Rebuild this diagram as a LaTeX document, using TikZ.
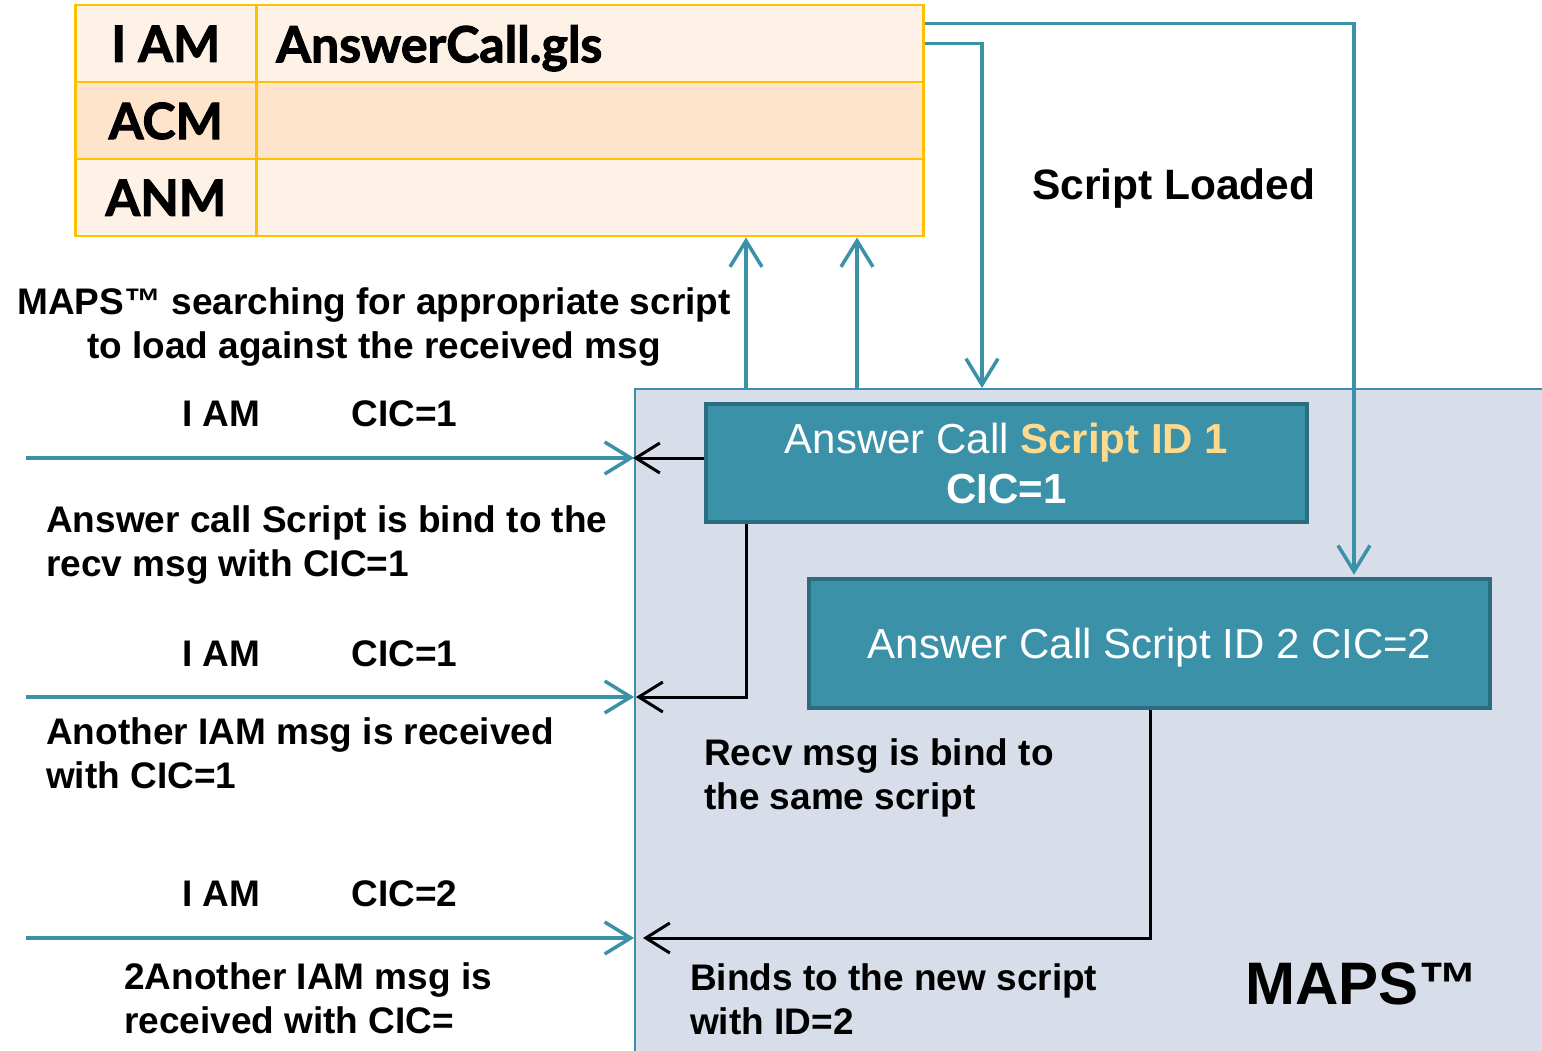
\documentclass[tikz,border=0pt]{standalone}
\usepackage{fontspec}
\setmainfont{Liberation Sans}
\newfontfamily\gillfont{Lato}[BoldFeatures={FakeBold=2}]
\usetikzlibrary{arrows.meta}
\definecolor{teal1}{HTML}{3A91A8}
\definecolor{tealdark}{HTML}{2A6D80}
\definecolor{gold}{HTML}{FFC000}
\definecolor{peachA}{HTML}{FEF1E6}
\definecolor{peachB}{HTML}{FEE4CB}
\definecolor{mapsbg}{HTML}{D7DEEA}
\definecolor{scriptyellow}{HTML}{FFD98C}
\begin{document}
\begin{tikzpicture}[x=1pt,y=-1pt,
  tcell/.style={draw=gold,line width=2.5pt,inner sep=0pt,minimum height=77pt,anchor=north west,
    text depth=0pt,font=\gillfont\bfseries\fontsize{50}{58}\selectfont},
  lbl/.style={inner sep=0pt,anchor=north west,align=left,font=\fontsize{37}{44.5}\selectfont\bfseries},
  sbox/.style={fill=teal1,draw=tealdark,line width=4.5pt,text=white,align=center,inner sep=0pt,
    font=\fontsize{42}{50}\selectfont},
  tealarr/.style={draw=teal1,line width=3.5pt,-{Straight Barb[length=26pt,width=32pt]}},
  blkarr/.style={draw=black,line width=3pt,-{Straight Barb[length=24pt,width=30pt]}}]
\useasboundingbox (0,0) rectangle (1542,1051);
\fill[white] (0,0) rectangle (1542,1051);

% table
\node[tcell,fill=peachA,minimum width=181pt] (c11) at (74,4) {I AM};
\node[tcell,fill=peachA,minimum width=667pt,text width=627pt,inner xsep=20pt,align=left] (c12) at (255,4) {AnswerCall.gls};
\node[tcell,fill=peachB,minimum width=181pt] (c21) at (74,81) {ACM};
\node[tcell,fill=peachB,minimum width=667pt] (c22) at (255,81) {};
\node[tcell,fill=peachA,minimum width=181pt] (c31) at (74,158) {ANM};
\node[tcell,fill=peachA,minimum width=667pt] (c32) at (255,158) {};

% MAPS region
\node[fill=mapsbg,draw=teal1,line width=2pt,anchor=north west,minimum width=930pt,minimum height=690pt,inner sep=0pt] (maps) at (634,388) {};

% script boxes
\node[sbox,minimum width=601pt,minimum height=118pt] (box1) at (1006.5,463)
  {Answer Call \textcolor{scriptyellow}{\bfseries Script ID 1}\\ \bfseries CIC=1};
\node[sbox,minimum width=681pt,minimum height=129pt,text depth=0pt] (box2) at (1149.5,643.5)
  {Answer Call Script ID 2 CIC=2};

% helper coordinates
\coordinate (x1) at (746,0);
\coordinate (x2) at (857,0);
\coordinate (x3) at (982,0);
\coordinate (x4) at (1354,0);
\coordinate (x5) at (1150,0);
\coordinate (in1) at (26,458);
\coordinate (in2) at (26,697);
\coordinate (in3) at (26,938);

% teal connectors
\draw[tealarr] (maps.north -| x1) -- (c32.south -| x1);
\draw[tealarr] (maps.north -| x2) -- (c32.south -| x2);
\draw[tealarr] (c12.east) -| (maps.north -| x3);
\draw[tealarr] ([yshift=20pt]c12.east) -| ([yshift=2pt]box2.north -| x4);
\draw[tealarr] (in1) -- (in1 -| maps.west);
\draw[tealarr] (in2) -- (in2 -| maps.west);
\draw[tealarr] (in3) -- (in3 -| maps.west);

% black connectors
\draw[blkarr] ([yshift=5pt]box1.west) -- ([yshift=5pt,xshift=-1pt]box1.west -| maps.west);
\draw[blkarr] (box1.south -| x1) |- ([xshift=2pt]in2 -| maps.west);
\draw[blkarr] (box2.south -| x5) |- ([xshift=9pt]in3 -| maps.west);

% labels
\node[lbl,anchor=north,align=center] (t0) at (374,287) {MAPS™ searching for appropriate script\\to load against the received msg};
\node[lbl,font=\fontsize{42.5}{50}\selectfont\bfseries] (tsl) at (1032,169) {Script Loaded};
\node[lbl] (m1) at (182,400) {I AM\hspace*{91pt}CIC=1};
\node[lbl] (d1) at (46,505) {Answer call Script is bind to the\\recv msg with CIC=1};
\node[lbl] (m2) at (182,640) {I AM\hspace*{91pt}CIC=1};
\node[lbl] (d2) at (46,717) {Another IAM msg is received\\with CIC=1};
\node[lbl] (m3) at (182,880) {I AM\hspace*{91pt}CIC=2};
\node[lbl] (d3) at (124,962) {2Another IAM msg is\\received with CIC=};
\node[lbl] (r1) at (704,738) {Recv msg is bind to\\the same script};
\node[lbl] (r2) at (690,963) {Binds to the new script\\with ID=2};
\node[lbl,font=\fontsize{60}{66}\selectfont\bfseries] (tm) at (1245,962) {MAPS™};
\end{tikzpicture}
\end{document}
